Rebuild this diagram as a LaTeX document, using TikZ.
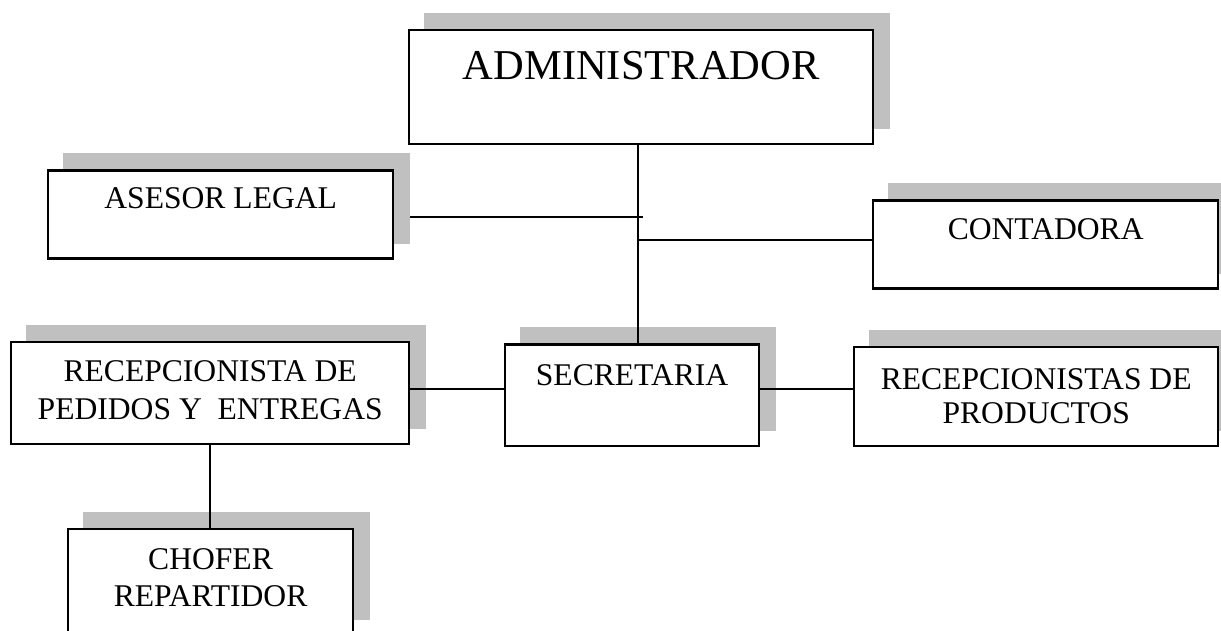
\documentclass[tikz,border=0pt]{standalone}
\usepackage{fontspec}
\setmainfont{Liberation Serif}
\usetikzlibrary{backgrounds}
\definecolor{shadowgray}{HTML}{C0C0C0}
\begin{document}
\begin{tikzpicture}[x=1pt,y=-1pt,
  orgbox/.style={draw=black, line width=2.4pt, fill=white, anchor=north west, inner sep=0pt},
  conn/.style={draw=black, line width=2pt},
  lbl/.style={inner sep=0pt, anchor=base, align=center, font=\fontsize{31.6}{37.7}\selectfont},
  biglbl/.style={inner sep=0pt, anchor=base, font=\fontsize{42.5}{50}\selectfont},
  shadowfill/.style={fill=shadowgray}]
\clip (0,0) rectangle (1221,630);
% boxes
\node[orgbox, minimum width=464pt, minimum height=114pt] (admin) at (408,29) {};
\node[orgbox, minimum width=345pt, minimum height=88pt] (asesor) at (47,169.3) {};
\node[orgbox, minimum width=345pt, minimum height=88pt] (conta) at (872,199.3) {};
\node[orgbox, minimum width=398pt, minimum height=101.7pt] (recep) at (10,341) {};
\node[orgbox, minimum width=253.7pt, minimum height=101.7pt] (secr) at (504,343.3) {};
\node[orgbox, minimum width=364pt, minimum height=99pt] (prod) at (853,346) {};
\node[orgbox, minimum width=285.3pt, minimum height=106pt] (chofer) at (66.7,527.7) {};
% texts (base anchor = baseline of the last line)
\node[biglbl] (admin-t) at ([yshift=-50pt]admin.north) {ADMINISTRADOR};
\node[lbl] (asesor-t) at ([yshift=-39pt]asesor.north) {ASESOR LEGAL};
\node[lbl] (conta-t) at ([yshift=-40pt]conta.north) {CONTADORA};
\node[lbl, font=\fontsize{31.6}{38.3}\selectfont] (recep-t) at ([yshift=-78.3pt]recep.north) {RECEPCIONISTA DE\\PEDIDOS Y\ \ ENTREGAS};
\node[lbl] (secr-t) at ([yshift=-41.7pt]secr.north) {SECRETARIA};
\node[lbl, font=\fontsize{31.6}{33.5}\selectfont] (prod-t) at ([yshift=-77pt]prod.north) {RECEPCIONISTAS DE\\PRODUCTOS};
\node[lbl] (chofer-t) at ([yshift=-79pt]chofer.north) {CHOFER\\REPARTIDOR};
\begin{scope}[on background layer]
  % shadows
  \foreach \b in {admin,asesor,conta,recep,secr,prod,chofer}{
    \fill[shadowfill] ([shift={(16pt,16pt)}]\b.south west) rectangle ([shift={(16pt,16pt)}]\b.north east);
  }
  % connectors
  \coordinate (tx) at (637.5,0);
  \draw[conn] (admin.south -| tx) -- (secr.north -| tx);
  \coordinate (ay) at (643,217.3);
  \draw[conn] ([xshift=16pt]asesor.east |- ay) -- (ay);
  \coordinate (cy) at (0,239.5);
  \draw[conn] (tx |- cy) -- (conta.west |- cy);
  \coordinate (my) at (0,389.3);
  \draw[conn] (recep.east |- my) -- (secr.west |- my);
  \draw[conn] (secr.east |- my) -- (prod.west |- my);
  \draw[conn] (recep.south) -- (recep.south |- chofer.north);
\end{scope}
\end{tikzpicture}
\end{document}
